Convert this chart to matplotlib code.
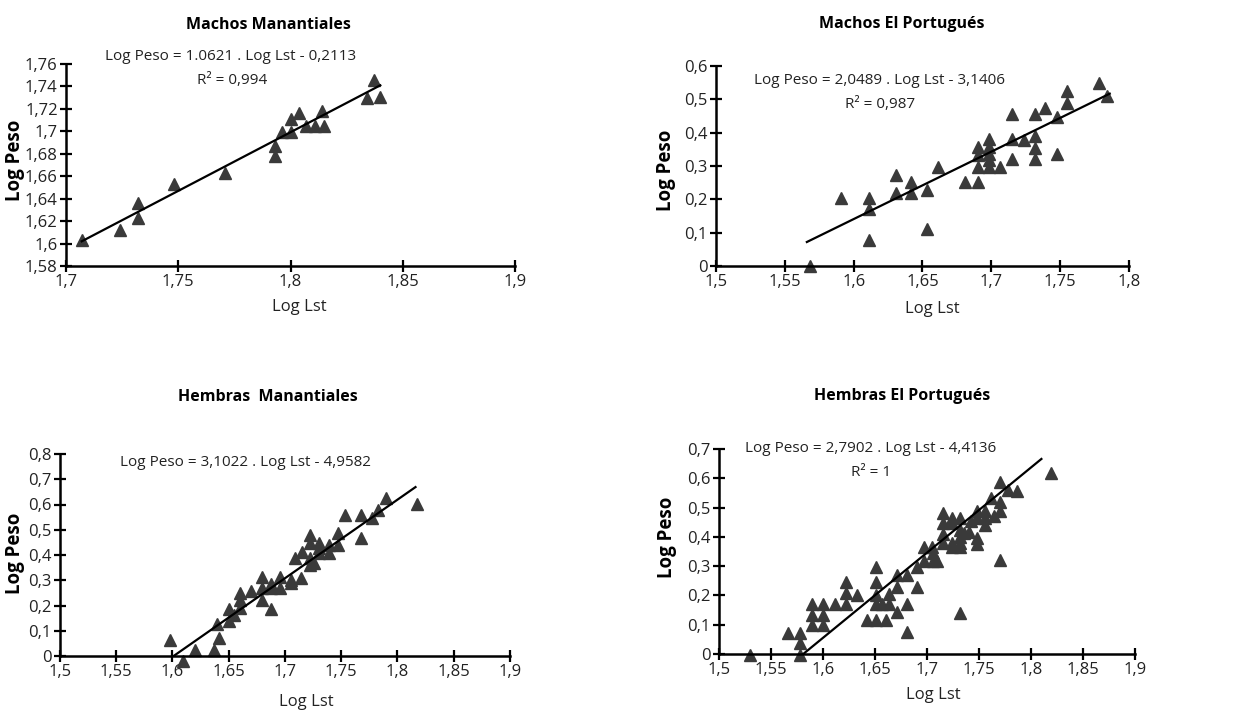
import matplotlib
matplotlib.use("Agg")
import matplotlib.pyplot as plt

plt.rcParams["font.family"] = ["Open Sans", "DejaVu Sans"]

W, H = 1238, 710

# ==============================
# DATA
# ==============================

# Machos Manantiales
mm_x = [1.707, 1.724, 1.732, 1.732, 1.748, 1.771, 1.793, 1.793, 1.796, 1.800,
        1.800, 1.804, 1.807, 1.811, 1.814, 1.815, 1.834, 1.837, 1.840]
mm_y = [1.603, 1.612, 1.636, 1.623, 1.653, 1.663, 1.687, 1.678, 1.699, 1.711,
        1.699, 1.716, 1.705, 1.705, 1.718, 1.705, 1.730, 1.746, 1.731]
mm_fit_x = [1.707, 1.840]
mm_fit_y = [1.602, 1.741]

# Machos El Portugues
mp_x = [1.568, 1.591, 1.611, 1.611, 1.611, 1.631, 1.631, 1.642, 1.642, 1.653,
        1.653, 1.661, 1.681, 1.690, 1.690, 1.690, 1.690, 1.698, 1.698, 1.698,
        1.698, 1.698, 1.706, 1.715, 1.715, 1.715, 1.724, 1.732, 1.732, 1.732,
        1.732, 1.739, 1.748, 1.748, 1.755, 1.755, 1.778, 1.784]
mp_y = [0.000, 0.203, 0.203, 0.172, 0.077, 0.272, 0.220, 0.252, 0.220, 0.229,
        0.110, 0.297, 0.252, 0.357, 0.334, 0.297, 0.252, 0.382, 0.357, 0.337,
        0.317, 0.297, 0.297, 0.457, 0.382, 0.320, 0.377, 0.457, 0.389, 0.355,
        0.320, 0.474, 0.447, 0.337, 0.524, 0.489, 0.550, 0.510]
mp_fit_x = [1.566, 1.786]
mp_fit_y = [0.072, 0.517]

# Hembras Manantiales
hm_x = [1.598, 1.609, 1.620, 1.637, 1.640, 1.641, 1.650, 1.650, 1.655, 1.660,
        1.660, 1.660, 1.670, 1.680, 1.680, 1.680, 1.688, 1.688, 1.688, 1.696,
        1.696, 1.705, 1.705, 1.709, 1.714, 1.715, 1.722, 1.722, 1.722, 1.722,
        1.726, 1.730, 1.730, 1.730, 1.739, 1.739, 1.747, 1.747, 1.753, 1.768,
        1.768, 1.777, 1.783, 1.790, 1.817]
hm_y = [0.065, -0.020, 0.022, 0.022, 0.126, 0.072, 0.187, 0.139, 0.164, 0.250,
        0.221, 0.192, 0.258, 0.311, 0.268, 0.221, 0.287, 0.268, 0.188, 0.311,
        0.268, 0.301, 0.291, 0.390, 0.307, 0.412, 0.481, 0.446, 0.390, 0.360,
        0.370, 0.446, 0.426, 0.407, 0.407, 0.440, 0.486, 0.440, 0.558, 0.558,
        0.469, 0.548, 0.579, 0.625, 0.603]
hm_fit_x = [1.601, 1.816]
hm_fit_y = [0.000, 0.669]

# Hembras El Portugues
hp_x = [1.530, 1.566, 1.578, 1.578, 1.578, 1.589, 1.589, 1.589, 1.600, 1.600,
        1.600, 1.612, 1.622, 1.622, 1.622, 1.633, 1.642, 1.651, 1.651, 1.651,
        1.651, 1.651, 1.657, 1.661, 1.663, 1.663, 1.671, 1.671, 1.671, 1.681,
        1.681, 1.681, 1.690, 1.690, 1.697, 1.697, 1.705, 1.706, 1.706, 1.710,
        1.715, 1.715, 1.715, 1.715, 1.724, 1.724, 1.724, 1.724, 1.732, 1.732,
        1.732, 1.732, 1.732, 1.732, 1.736, 1.740, 1.742, 1.748, 1.748, 1.748,
        1.748, 1.756, 1.756, 1.756, 1.764, 1.762, 1.770, 1.770, 1.770, 1.770,
        1.778, 1.787, 1.819]
hp_y = [-0.005, 0.073, 0.073, 0.036, -0.005, 0.171, 0.133, 0.099, 0.171, 0.133,
        0.099, 0.171, 0.246, 0.210, 0.171, 0.200, 0.116, 0.296, 0.246, 0.200,
        0.171, 0.116, 0.171, 0.116, 0.205, 0.171, 0.269, 0.230, 0.145, 0.269,
        0.171, 0.075, 0.296, 0.230, 0.367, 0.316, 0.367, 0.344, 0.316, 0.316,
        0.483, 0.447, 0.410, 0.378, 0.464, 0.447, 0.378, 0.367, 0.464, 0.424,
        0.401, 0.378, 0.367, 0.141, 0.413, 0.415, 0.453, 0.487, 0.464, 0.396,
        0.375, 0.487, 0.464, 0.441, 0.470, 0.533, 0.587, 0.518, 0.489, 0.322,
        0.561, 0.558, 0.618]
hp_fit_x = [1.581, 1.810]
hp_fit_y = [0.000, 0.666]

# ==============================
# PANELS
# ==============================
panels = [
    dict(title="Machos Manantiales", x=mm_x, y=mm_y, fx=mm_fit_x, fy=mm_fit_y,
         box=(66, 64, 515, 266), xlim=(1.7, 1.9),
         xticks=[1.7, 1.75, 1.8, 1.85, 1.9],
         xlabels=["1,7", "1,75", "1,8", "1,85", "1,9"],
         ylim=(1.58, 1.76),
         yticks=[1.58, 1.6, 1.62, 1.64, 1.66, 1.68, 1.7, 1.72, 1.74, 1.76],
         ylabels=["1,58", "1,6", "1,62", "1,64", "1,66", "1,68", "1,7", "1,72", "1,74", "1,76"],
         title_pos=(268, 25), ylab_pos=(15, 160), xlab_pos=(299, 307),
         eq=[("Log Peso = 1.0621 . Log Lst - 0,2113", 231, 56),
             ("R² = 0,994", 232, 80)]),
    dict(title="Machos El Portugués", x=mp_x, y=mp_y, fx=mp_fit_x, fy=mp_fit_y,
         box=(716, 66, 1129, 266), xlim=(1.5, 1.8),
         xticks=[1.5, 1.55, 1.6, 1.65, 1.7, 1.75, 1.8],
         xlabels=["1,5", "1,55", "1,6", "1,65", "1,7", "1,75", "1,8"],
         ylim=(0, 0.6), yticks=[0, 0.1, 0.2, 0.3, 0.4, 0.5, 0.6],
         ylabels=["0", "0,1", "0,2", "0,3", "0,4", "0,5", "0,6"],
         title_pos=(902, 24), ylab_pos=(666, 170), xlab_pos=(932, 309),
         eq=[("Log Peso = 2,0489 . Log Lst - 3,1406", 880, 81),
             ("R² = 0,987", 880, 105)]),
    dict(title="Hembras  Manantiales", x=hm_x, y=hm_y, fx=hm_fit_x, fy=hm_fit_y,
         box=(60, 454, 510, 656), xlim=(1.5, 1.9),
         xticks=[1.5, 1.55, 1.6, 1.65, 1.7, 1.75, 1.8, 1.85, 1.9],
         xlabels=["1,5", "1,55", "1,6", "1,65", "1,7", "1,75", "1,8", "1,85", "1,9"],
         ylim=(0, 0.8), yticks=[0, 0.1, 0.2, 0.3, 0.4, 0.5, 0.6, 0.7, 0.8],
         ylabels=["0", "0,1", "0,2", "0,3", "0,4", "0,5", "0,6", "0,7", "0,8"],
         title_pos=(268, 397), ylab_pos=(15, 553), xlab_pos=(306, 702),
         eq=[("Log Peso = 3,1022 . Log Lst - 4,9582", 245, 463)]),
    dict(title="Hembras El Portugués", x=hp_x, y=hp_y, fx=hp_fit_x, fy=hp_fit_y,
         box=(719, 449, 1135, 654), xlim=(1.5, 1.9),
         xticks=[1.5, 1.55, 1.6, 1.65, 1.7, 1.75, 1.8, 1.85, 1.9],
         xlabels=["1,5", "1,55", "1,6", "1,65", "1,7", "1,75", "1,8", "1,85", "1,9"],
         ylim=(0, 0.7), yticks=[0, 0.1, 0.2, 0.3, 0.4, 0.5, 0.6, 0.7],
         ylabels=["0", "0,1", "0,2", "0,3", "0,4", "0,5", "0,6", "0,7"],
         title_pos=(902, 396), ylab_pos=(667, 537), xlab_pos=(933, 695),
         eq=[("Log Peso = 2,7902 . Log Lst - 4,4136", 871, 448),
             ("R² = 1", 871, 473)]),
]

fig = plt.figure(figsize=(W / 100, H / 100), dpi=100)

for p in panels:
    l, t, r, b = p["box"]
    ax = fig.add_axes([l / W, 1 - b / H, (r - l) / W, (b - t) / H])
    ax.plot(p["x"], p["y"], linestyle="none", marker="^", markersize=8,
            color="#3a3a3a", clip_on=False)
    ax.plot(p["fx"], p["fy"], color="black", linewidth=1.6)
    ax.set_xlim(p["xlim"])
    ax.set_ylim(p["ylim"])
    ax.set_xticks(p["xticks"])
    ax.set_xticklabels(p["xlabels"])
    ax.set_yticks(p["yticks"])
    ax.set_yticklabels(p["ylabels"])
    ax.spines["top"].set_visible(False)
    ax.spines["right"].set_visible(False)
    for s in ["left", "bottom"]:
        ax.spines[s].set_linewidth(1.8)
    ax.tick_params(direction="inout", length=8, width=1.6, labelsize=12,
                   labelcolor="#222222", pad=2)
    ax.patch.set_visible(False)

    fig.text(p["title_pos"][0] / W, 1 - p["title_pos"][1] / H, p["title"],
             ha="center", va="center", fontsize=11.5, fontweight="bold")
    fig.text(p["ylab_pos"][0] / W, 1 - p["ylab_pos"][1] / H, "Log Peso",
             ha="center", va="center", rotation=90, fontsize=13.5,
             fontweight="bold")
    fig.text(p["xlab_pos"][0] / W, 1 - p["xlab_pos"][1] / H, "Log Lst",
             ha="center", va="center", fontsize=12, color="#222222")
    for txt, ex, ey in p["eq"]:
        fig.text(ex / W, 1 - ey / H, txt, ha="center", va="center",
                 fontsize=11, color="#222222")

fig.savefig("out.png", dpi=100, facecolor="white")
